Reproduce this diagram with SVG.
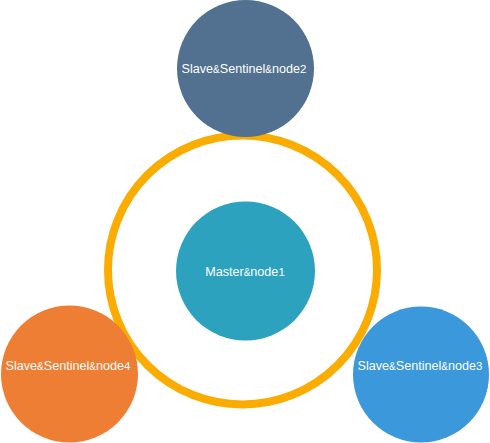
<svg xmlns="http://www.w3.org/2000/svg" width="490" height="443" viewBox="0 0 490 443">
<style>
.t{font-family:"Liberation Sans",Arial,sans-serif;font-size:12.6px;fill:#ffffff;text-anchor:middle}
.s{font-size:10px}
.d{font-size:11.5px}
</style>
<rect width="490" height="443" fill="#ffffff"/>
<g id="connectors">
<circle cx="242.5" cy="270" r="134.5" fill="none" stroke="#FBAC00" stroke-width="8"/>
</g>
<g id="node1">
<circle cx="245.5" cy="271" r="69.5" fill="#2CA2BF"/>
<text class="t" x="245" y="276">Master<tspan class="s">&amp;</tspan>node<tspan class="d">1</tspan></text>
</g>
<g id="node2">
<circle cx="245.5" cy="68.5" r="68.5" fill="#52708F"/>
<text class="t" x="244" y="73">Slave<tspan class="s">&amp;</tspan>Sentinel<tspan class="s">&amp;</tspan>node<tspan class="d">2</tspan></text>
</g>
<g id="node4">
<circle cx="69.5" cy="374" r="68.5" fill="#EE7E33"/>
<text class="t" x="68" y="370">Slave<tspan class="s">&amp;</tspan>Sentinel<tspan class="s">&amp;</tspan>node<tspan class="d">4</tspan></text>
</g>
<g id="node3">
<circle cx="421" cy="374.5" r="68" fill="#3A98DB"/>
<text class="t" x="420" y="370">Slave<tspan class="s">&amp;</tspan>Sentinel<tspan class="s">&amp;</tspan>node<tspan class="d">3</tspan></text>
</g>
</svg>
